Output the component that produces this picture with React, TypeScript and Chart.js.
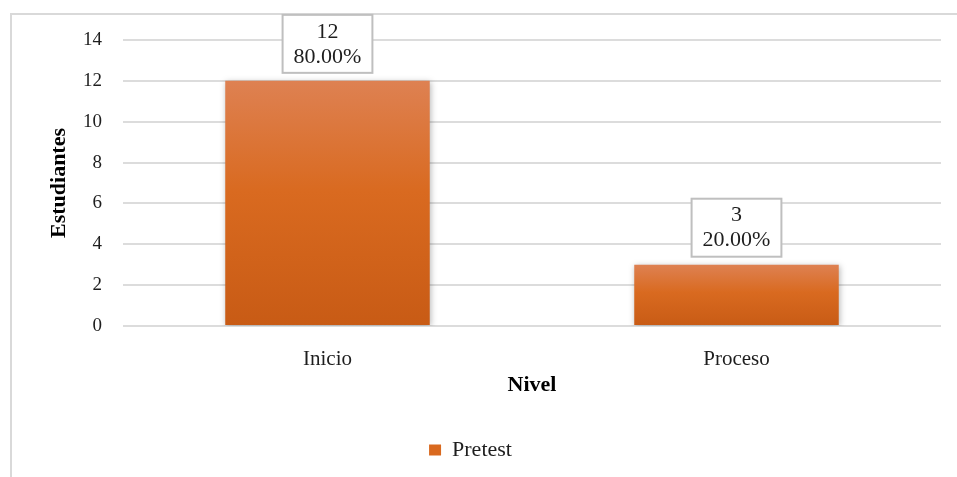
import React, { useEffect, useRef } from "react";
import { Chart, registerables } from "chart.js";

Chart.register(...registerables);

const categories = ["Inicio", "Proceso"];
const pretestValues = [12, 3];
const seriesLabel = "Pretest";
const xTitle = "Nivel";
const yTitle = "Estudiantes";
const yMin = 0;
const yMax = 14;
const yStep = 2;

const SERIF = "'Liberation Serif', 'Times New Roman', serif";
const TEXT = "#1e1e1e";

const framePlugin = {
  id: "frame",
  beforeDraw(chart: any) {
    const { ctx } = chart;
    ctx.save();
    ctx.strokeStyle = "#d9d9d9";
    ctx.lineWidth = 2;
    ctx.strokeRect(11, 14, 3000, 3000);
    ctx.restore();
  },
};

const shadowPlugin = {
  id: "barShadow",
  beforeDatasetsDraw(chart: any) {
    const { ctx } = chart;
    ctx.save();
    ctx.shadowColor = "rgba(0,0,0,0.28)";
    ctx.shadowBlur = 6;
    ctx.shadowOffsetX = 1;
    ctx.shadowOffsetY = 1;
  },
  afterDatasetsDraw(chart: any) {
    chart.ctx.restore();
  },
};

const labelPlugin = {
  id: "boxLabels",
  afterDatasetsDraw(chart: any) {
    const { ctx } = chart;
    const ds = chart.data.datasets[0];
    const values = ds.data as number[];
    const total = values.reduce((a, b) => a + b, 0);
    const meta = chart.getDatasetMeta(0);
    ctx.save();
    ctx.font = `22px ${SERIF}`;
    meta.data.forEach((bar: any, i: number) => {
      const v = values[i];
      const l1 = String(v);
      const l2 = ((v / total) * 100).toFixed(2) + "%";
      const w = Math.max(ctx.measureText(l1).width, ctx.measureText(l2).width) + 22;
      const h = 58;
      const bottom = bar.y - 8;
      const top = bottom - h;
      const left = bar.x - w / 2;
      ctx.fillStyle = "#ffffff";
      ctx.fillRect(left, top, w, h);
      ctx.strokeStyle = "#bfbfbf";
      ctx.lineWidth = 2;
      ctx.strokeRect(left, top, w, h);
      ctx.fillStyle = TEXT;
      ctx.textAlign = "center";
      ctx.textBaseline = "middle";
      ctx.fillText(l1, bar.x, bottom - 41);
      ctx.fillText(l2, bar.x, bottom - 16);
    });
    ctx.restore();
  },
};

function barGradient(context: any) {
  const chart = context.chart;
  const { ctx, chartArea, scales } = chart;
  if (!chartArea || !scales || !scales.y) return "#D9691F";
  const v = context.raw as number;
  const yTop = scales.y.getPixelForValue(v);
  const yBot = scales.y.getPixelForValue(0);
  if (!isFinite(yTop) || !isFinite(yBot) || yTop === yBot) return "#D9691F";
  const g = ctx.createLinearGradient(0, yTop, 0, yBot);
  g.addColorStop(0, "#DE8152");
  g.addColorStop(0.45, "#D96A20");
  g.addColorStop(1, "#C85B15");
  return g;
}

export default function App() {
  const ref = useRef<HTMLCanvasElement | null>(null);

  useEffect(() => {
    if (!ref.current) return;
    const chart = new Chart(ref.current, {
      type: "bar",
      data: {
        labels: categories,
        datasets: [
          {
            label: seriesLabel,
            data: pretestValues,
            backgroundColor: barGradient as any,
            borderWidth: 0,
            barPercentage: 0.5,
            categoryPercentage: 1.0,
          },
        ],
      },
      options: {
        responsive: false,
        animation: false,
        layout: { padding: { left: 0, right: 16, top: 40, bottom: 6 } },
        plugins: {
          tooltip: { enabled: false },
          legend: {
            position: "bottom",
            labels: {
              boxWidth: 12,
              boxHeight: 11,
              padding: 10,
              color: TEXT,
              font: { family: SERIF, size: 22 },
              generateLabels: (c: any) =>
                Chart.defaults.plugins.legend.labels
                  .generateLabels(c)
                  .map((l: any) => ({ ...l, fillStyle: "#D9691F", strokeStyle: "#D9691F", lineWidth: 0 })),
            },
          },
        },
        scales: {
          x: {
            grid: { display: false },
            border: { display: false },
            ticks: { padding: 13, color: TEXT, font: { family: SERIF, size: 21 } },
            title: {
              display: true,
              text: xTitle,
              color: "#000",
              font: { family: SERIF, size: 22, weight: "bold" },
              padding: { top: 0, bottom: 30 },
            },
            afterFit: (s: any) => {
              s.height = 103;
            },
          },
          y: {
            min: yMin,
            max: yMax,
            ticks: { stepSize: yStep, padding: 21, color: TEXT, font: { family: SERIF, size: 19 } },
            grid: { color: "#dcdcdc", lineWidth: 2, drawTicks: false },
            border: { display: false },
            title: {
              display: true,
              text: yTitle,
              color: "#000",
              font: { family: SERIF, size: 22, weight: "bold" },
              padding: { top: 46, bottom: 0 },
            },
            afterFit: (s: any) => {
              s.width = 123;
            },
          },
        },
      } as any,
      plugins: [framePlugin, shadowPlugin, labelPlugin],
    });
    return () => chart.destroy();
  }, []);

  return (
    <div style={{ position: "fixed", left: 0, top: 0, width: 957, height: 477, background: "#fff" }}>
      <canvas ref={ref} width={957} height={477} style={{ display: "block" }} />
    </div>
  );
}
